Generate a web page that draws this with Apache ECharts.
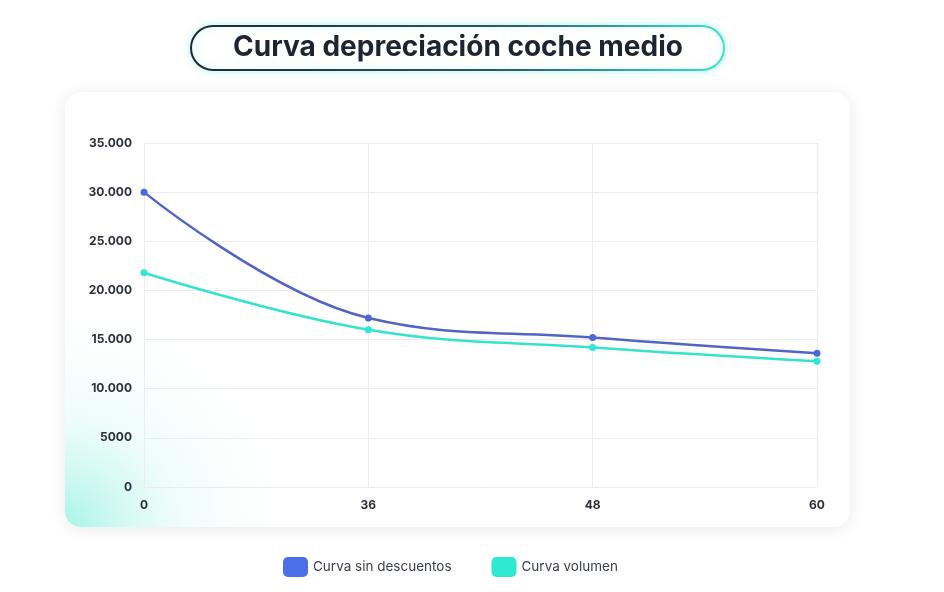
<!DOCTYPE html>
<html><head><meta charset="utf-8">
<script src="https://cdn.jsdelivr.net/npm/echarts@6/dist/echarts.min.js"></script>
<style>html,body{margin:0;padding:0;background:#fff}#c{width:944px;height:592px}</style>
</head><body><div id="c"></div>
<script>
const titleText = 'Curva depreciación coche medio';
const months = ['0', '36', '48', '60'];
const seriesNames = ['Curva sin descuentos', 'Curva volumen'];
const sinDescuentos = [30000, 17200, 15200, 13600];
const volumen = [21800, 16000, 14200, 12800];

function fmt(v) {
  if (v < 10000) return String(v);
  const s = String(v);
  return s.slice(0, s.length - 3) + '.' + s.slice(-3);
}

const chart = echarts.init(document.getElementById('c'));
chart.setOption({
  backgroundColor: '#ffffff',
  animation: false,
  graphic: [
    { type: 'rect', z: -10, shape: { x: 65, y: 92, width: 785, height: 435, r: 16 },
      style: { fill: '#fff', shadowBlur: 16, shadowColor: 'rgba(0,0,0,0.09)', shadowOffsetY: 2 } },
    { type: 'rect', z: -9, shape: { x: 65, y: 92, width: 785, height: 435, r: 16 },
      style: { fill: { type: 'radial', x: 0, y: 1, r: 0.55, colorStops: [
        { offset: 0, color: 'rgba(110,235,215,0.6)' },
        { offset: 0.45, color: 'rgba(180,245,235,0.25)' },
        { offset: 1, color: 'rgba(255,255,255,0)' } ] } } },
    { type: 'rect', z: -5, shape: { x: 191, y: 26, width: 533, height: 44, r: 22 },
      style: { fill: '#fff', lineWidth: 2,
        stroke: { type: 'linear', x: 0, y: 0, x2: 1, y2: 0, colorStops: [
          { offset: 0, color: '#1f2838' }, { offset: 0.6, color: '#2f5a66' }, { offset: 1, color: '#3fe3cf' } ] },
        shadowBlur: 8, shadowColor: 'rgba(63,227,207,0.35)' } },
    { type: 'text', z: 10, x: 458, y: 48,
      style: { text: titleText, textAlign: 'center', textVerticalAlign: 'middle',
        fontFamily: 'Inter', fontWeight: 700, fontSize: 28, fill: '#1d2433' } }
  ],
  grid: { left: 144, right: 127, top: 143, bottom: 105 },
  legend: {
    bottom: 10, left: 278, itemWidth: 25, itemHeight: 20, itemGap: 40, icon: 'roundRect',
    textStyle: { fontFamily: 'Inter', fontSize: 13.5, color: '#3a3f4a' },
    data: [
      { name: seriesNames[0], itemStyle: { color: '#4b6fe6' } },
      { name: seriesNames[1], itemStyle: { color: '#2ee8d2' } }
    ]
  },
  xAxis: {
    type: 'category', data: months, boundaryGap: false,
    axisLine: { show: false }, axisTick: { show: false },
    axisLabel: { margin: 12, fontFamily: 'Inter', fontWeight: 700, fontSize: 12, color: '#2a2f3a' },
    splitLine: { show: true, lineStyle: { color: '#ececf0', width: 1 } }
  },
  yAxis: {
    type: 'value', min: 0, max: 35000, interval: 5000,
    axisLine: { show: false }, axisTick: { show: false },
    axisLabel: { margin: 12, formatter: fmt, fontFamily: 'Inter', fontWeight: 700, fontSize: 12, color: '#2a2f3a' },
    splitLine: { lineStyle: { color: '#ececf0', width: 1 } }
  },
  series: [
    { name: seriesNames[0], type: 'line', data: sinDescuentos, smooth: 0.4,
      symbol: 'circle', symbolSize: 7,
      itemStyle: { color: '#4e68d8' }, lineStyle: { color: '#5264c4', width: 2.5 } },
    { name: seriesNames[1], type: 'line', data: volumen, smooth: 0.4,
      symbol: 'circle', symbolSize: 7,
      itemStyle: { color: '#2ee8d2' }, lineStyle: { color: '#34e3cb', width: 2.5 } }
  ]
});
</script>
</body></html>
